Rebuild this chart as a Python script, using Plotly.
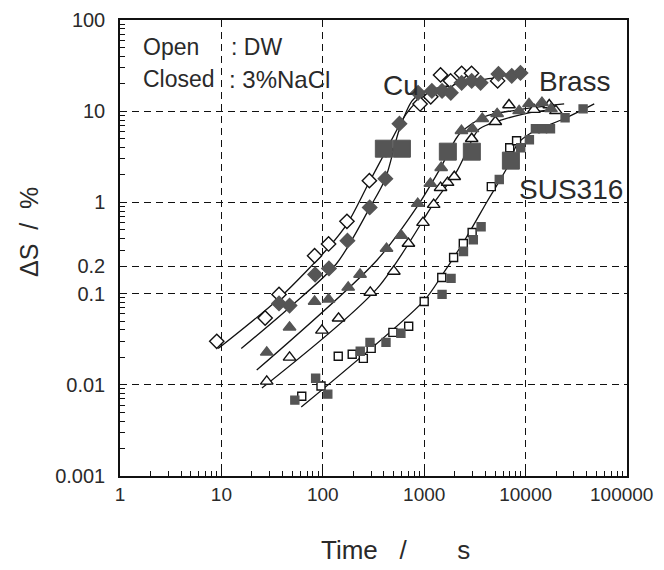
import plotly.graph_objects as go

# ---------------- data ----------------
cu_open_t = [9, 27, 37, 83, 114, 173, 288, 420, 910, 1160, 1450, 1820, 2340, 2930, 5300]
cu_open_s = [0.030, 0.054, 0.098, 0.26, 0.35, 0.62, 1.73, 3.8, 12.0, 14.4, 25, 21.5, 26, 26, 21.5]

cu_closed_t = [37, 47, 84, 115, 175, 290, 414, 570, 870, 1190, 1500, 1830, 2340, 2940, 3600, 5400, 7300, 8900]
cu_closed_s = [0.078, 0.074, 0.162, 0.189, 0.38, 0.88, 1.82, 7.3, 15.9, 16.7, 16.7, 15.9, 20.5, 21.5, 20.5, 25.6, 24.4, 26.3]

brass_open_t = [28, 47, 98, 143, 294, 502, 699, 973, 1240, 1450, 1700, 1980, 2940, 5030, 6860, 12100, 17100, 19900]
brass_open_s = [0.0109, 0.020, 0.0395, 0.0536, 0.103, 0.175, 0.354, 0.60, 0.946, 1.45, 1.65, 1.91, 4.99, 7.66, 11.7, 10.4, 11.7, 10.1]

brass_closed_t = [28, 47, 83, 114, 178, 233, 425, 593, 863, 1150, 1470, 2330, 2990, 3740, 5240, 8630, 10800, 14500, 17800]
brass_closed_s = [0.0227, 0.0427, 0.082, 0.0865, 0.117, 0.162, 0.312, 0.434, 0.97, 1.61, 2.40, 6.11, 6.41, 8.26, 9.37, 10.1, 12.05, 12.4, 10.6]

sus_open_t = [62, 96, 142, 195, 251, 300, 491, 703, 1000, 1490, 1950, 2430, 2970, 4590, 6970, 8150]
sus_open_s = [0.0075, 0.0097, 0.0206, 0.0216, 0.0195, 0.0251, 0.0376, 0.0438, 0.082, 0.150, 0.249, 0.354, 0.468, 1.49, 3.98, 4.74]

sus_closed_t = [53, 85, 112, 234, 292, 420, 589, 1500, 1840, 2440, 3050, 3640, 5500, 8950, 10900, 12500, 14700, 17600, 24500, 36900]
sus_closed_s = [0.0068, 0.0118, 0.0079, 0.0233, 0.0292, 0.0292, 0.0367, 0.098, 0.147, 0.29, 0.39, 0.54, 1.78, 3.98, 4.87, 6.41, 6.41, 6.41, 8.47, 10.6]

big_mark_t = [400, 603, 1710, 2950, 7160]
big_mark_s = [3.88, 3.88, 3.60, 3.60, 2.87]

# fitted curves
cu_open_fit_t = [9.3, 37, 116, 177, 276, 420, 665, 993, 1950, 4840, 9550]
cu_open_fit_s = [0.025, 0.0885, 0.328, 0.60, 1.53, 3.69, 9.37, 14.7, 19.5, 23.2, 27.0]
cu_closed_fit_t = [15.7, 47, 137, 291, 414, 571, 759, 945, 1950]
cu_closed_fit_s = [0.025, 0.0706, 0.214, 0.877, 1.82, 6.41, 13.0, 15.9, 19.5]
brass_closed_fit_t = [22.3, 340, 865, 1435, 2233, 3910, 9660, 24000]
brass_closed_fit_s = [0.0145, 0.231, 0.923, 2.34, 5.66, 8.69, 10.6, 12.05]
brass_open_fit_t = [25.1, 344, 1297, 2115, 2940, 3510, 9690, 21400]
brass_open_fit_s = [0.0092, 0.114, 1.05, 2.23, 4.74, 6.41, 9.37, 10.6]
sus_fit_t = [61.3, 1002, 1494, 2600, 4230, 6560, 8340, 11400, 24000, 47500]
sus_fit_s = [0.0057, 0.0844, 0.158, 0.412, 1.05, 2.40, 4.40, 5.81, 8.26, 12.05]

NB = "\u00a0"
x_tickvals = [1, 10, 100, 1000, 10000, 100000]
x_ticktext = ["1", "10", "100", "1000", "10000", "100000" + NB * 2]
y_tickvals = [0.001, 0.01, 0.1, 0.2, 1, 10, 100]
y_ticktext = ["0.001", "0.01", "0.1", "0.2", "1", "10", "100"]

x_title = "Time" + NB * 3 + "/" + NB * 7 + "s"
y_title = "ΔS" + NB * 2 + "/" + NB * 2 + "%"

# ---------------- styling ----------------
FONT = "Liberation Sans, Arial, Helvetica, sans-serif"
TXT = "#2a2a2a"
FILL = "#555555"

fig = go.Figure()

fits = [
    ("Cu open fit", cu_open_fit_t, cu_open_fit_s),
    ("Cu closed fit", cu_closed_fit_t, cu_closed_fit_s),
    ("Brass closed fit", brass_closed_fit_t, brass_closed_fit_s),
    ("Brass open fit", brass_open_fit_t, brass_open_fit_s),
    ("SUS316 fit", sus_fit_t, sus_fit_s),
]
for name, t, s in fits:
    fig.add_trace(go.Scatter(x=t, y=s, mode="lines", name=name,
                             line=dict(color="#111", width=1.3, shape="spline", smoothing=0.8),
                             hoverinfo="skip"))

def pts(name, t, s, symbol, filled, size):
    fig.add_trace(go.Scatter(
        x=t, y=s, mode="markers", name=name,
        marker=dict(symbol=symbol, size=size,
                    color=FILL if filled else "white",
                    line=dict(color=FILL if filled else "#111", width=1.4))))

pts("Cu (DW)", cu_open_t, cu_open_s, "diamond", False, 11)
pts("Cu (3%NaCl)", cu_closed_t, cu_closed_s, "diamond", True, 11)
pts("Brass (DW)", brass_open_t, brass_open_s, "triangle-up", False, 11)
pts("Brass (3%NaCl)", brass_closed_t, brass_closed_s, "triangle-up", True, 11)
pts("SUS316 (DW)", sus_open_t, sus_open_s, "square", False, 8)
pts("SUS316 (3%NaCl)", sus_closed_t, sus_closed_s, "square", True, 8)

fig.add_trace(go.Scatter(x=big_mark_t, y=big_mark_s, mode="markers", name="marks",
                         marker=dict(symbol="square", size=17, color=FILL,
                                     line=dict(color=FILL, width=1))))

x_minor = [m * 10 ** d for d in range(0, 5) for m in range(2, 10)]
y_minor = [m * 10.0 ** d for d in range(-3, 2) for m in range(2, 10)]

grid = dict(showgrid=True, gridcolor="#111", gridwidth=1.2, griddash="7px,5px")

fig.update_xaxes(type="log", range=[0, 5], tickmode="array",
                 tickvals=x_tickvals, ticktext=x_ticktext, automargin=False,
                 ticks="inside", ticklen=7, tickwidth=1.2, tickcolor="#111",
                 minor=dict(tickvals=x_minor, ticks="inside", ticklen=5, tickwidth=1, tickcolor="#111", showgrid=False),
                 showline=True, linecolor="#111", linewidth=1.5, mirror=True,
                 zeroline=False, ticklabelstandoff=0,
                 tickfont=dict(family=FONT, size=19, color=TXT),
                 **grid)
fig.update_yaxes(type="log", range=[-3, 2], tickmode="array",
                 tickvals=y_tickvals, ticktext=y_ticktext, automargin=False,
                 ticks="inside", ticklen=7, tickwidth=1.2, tickcolor="#111",
                 minor=dict(tickvals=y_minor, ticks="inside", ticklen=5, tickwidth=1, tickcolor="#111", showgrid=False),
                 showline=True, linecolor="#111", linewidth=1.5, mirror=True,
                 zeroline=False, ticklabelstandoff=9,
                 tickfont=dict(family=FONT, size=20, color=TXT),
                 **grid)

# page is drawn with an 8px body offset; target positions below are in window pixels
OFF = 8
W, H = 664 - OFF, 570 - OFF
L, R, T, B = 120 - OFF, 37, 20 - OFF, 94

ann = [
    dict(x=141, y=47, text="Open", size=23, anchor="left", angle=0),
    dict(x=229, y=47, text=": DW", size=23, anchor="left", angle=0),
    dict(x=141, y=79, text="Closed", size=23, anchor="left", angle=0),
    dict(x=227, y=79, text=": 3%NaCl", size=24, anchor="left", angle=0),
    dict(x=401, y=85, text="Cu", size=28, anchor="center", angle=0),
    dict(x=575, y=81, text="Brass", size=28, anchor="center", angle=0),
    dict(x=571, y=189, text="SUS316", size=28, anchor="center", angle=0),
    dict(x=395, y=550, text=x_title, size=26, anchor="center", angle=0),
    dict(x=29, y=232, text=y_title, size=25, anchor="center", angle=-90),
]
for a in ann:
    px, py = a["x"] - OFF, a["y"] - OFF
    fig.add_annotation(x=(px - L) / (W - L - R), y=1 - (py - T) / (H - T - B),
                       xref="paper", yref="paper", text=a["text"], showarrow=False,
                       xanchor=a["anchor"], yanchor="middle", textangle=a["angle"],
                       font=dict(family=FONT, size=a["size"], color=TXT))

fig.update_layout(width=W, height=H, margin=dict(l=L, r=R, t=T, b=B, autoexpand=False),
                  plot_bgcolor="white", paper_bgcolor="white", showlegend=False)

fig.write_html("out.html")
